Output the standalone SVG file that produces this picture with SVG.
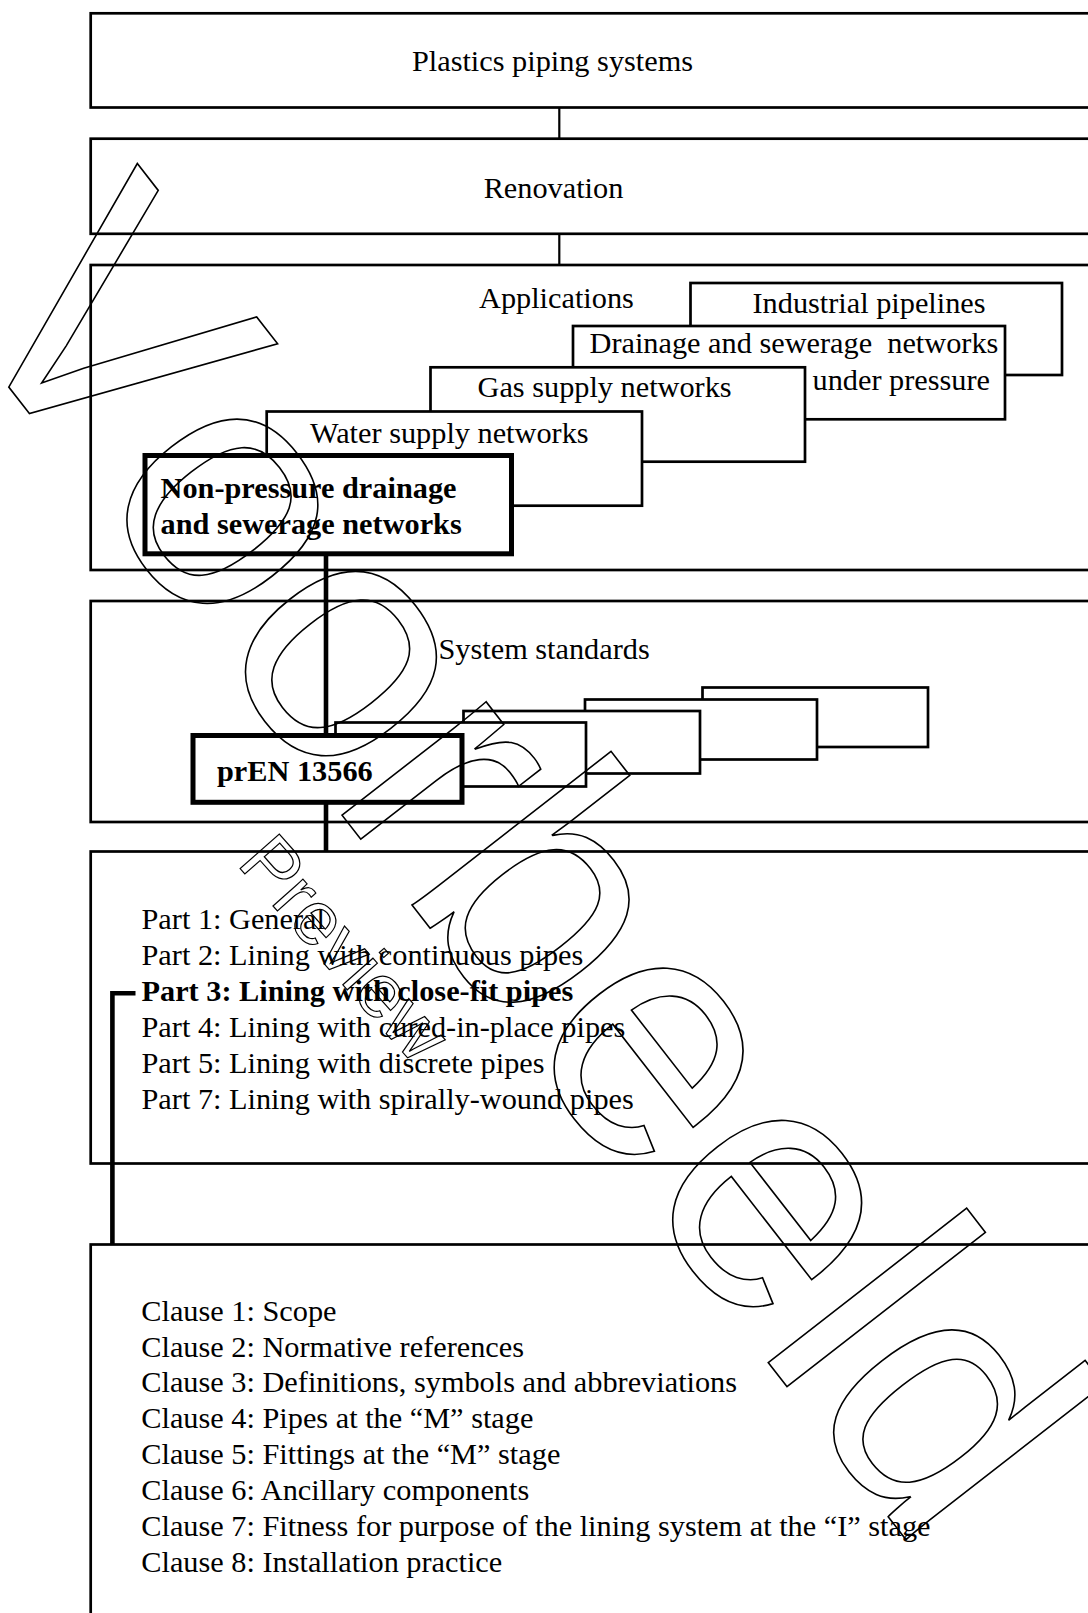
<svg xmlns="http://www.w3.org/2000/svg" width="1088" height="1613" viewBox="0 0 1088 1613">
<style>
.box{fill:#fff;stroke:#000;stroke-width:2.7}
.thick{fill:#fff;stroke:#000;stroke-width:5}
.t{font-family:"Liberation Serif","Times New Roman",serif;font-size:30.3px;fill:#000}
.b{font-weight:bold}
.c{text-anchor:middle}
.ln{fill:none;stroke:#000;stroke-width:2.2}
.tk{fill:none;stroke:#000;stroke-width:4.6}
.wm{font-family:"Liberation Sans",Arial,sans-serif;fill:none;stroke:#000;font-kerning:none}
</style>
<rect width="1088" height="1613" fill="#fff"/>

<g id="connectors">
<line class="ln" x1="559.3" y1="107.5" x2="559.3" y2="138.7"/>
<line class="ln" x1="559.3" y1="233.8" x2="559.3" y2="265"/>
</g>

<g id="n-plastics">
<rect class="box" x="90.7" y="13.3" width="1020" height="94.2"/>
<text class="t c" x="552.5" y="70.5">Plastics piping systems</text>
</g>
<g id="n-renovation">
<rect class="box" x="90.7" y="138.7" width="1020" height="95.1"/>
<text class="t c" x="553.5" y="197.5">Renovation</text>
</g>

<g id="n-applications">
<rect class="box" x="90.7" y="265" width="1020" height="305"/>
<text class="t" x="479" y="308">Applications</text>
</g>
<g id="n-industrial">
<rect class="box" x="690.5" y="283" width="371.5" height="92"/>
<text class="t" x="752.5" y="313">Industrial pipelines</text>
</g>
<g id="n-drainage-pressure">
<rect class="box" x="573" y="326" width="432" height="93.3"/>
<text class="t" x="589.5" y="353" xml:space="preserve">Drainage and sewerage  networks</text>
<text class="t" x="812.5" y="390">under pressure</text>
</g>
<g id="n-gas">
<rect class="box" x="430.5" y="367.3" width="374.5" height="94.4"/>
<text class="t" x="477.5" y="397">Gas supply networks</text>
</g>
<g id="n-water">
<rect class="box" x="266.7" y="411.5" width="375.3" height="94.2"/>
<text class="t" x="310" y="442.5">Water supply networks</text>
</g>

<g id="n-system-standards">
<rect class="box" x="90.7" y="601" width="1020" height="221"/>
<text class="t" x="438.5" y="658.5">System standards</text>
</g>
<g id="n-std-d"><rect class="box" x="702.5" y="687.5" width="225.5" height="59.5"/></g>
<g id="n-std-c"><rect class="box" x="585" y="699.5" width="232" height="60"/></g>
<g id="n-std-b"><rect class="box" x="463.5" y="711" width="236.5" height="62.5"/></g>
<g id="n-std-a"><rect class="box" x="335.5" y="722.5" width="250.5" height="64"/></g>

<g id="n-parts">
<rect class="box" x="90.7" y="851.5" width="1020" height="312"/>
<text class="t" x="141.5" y="929">Part 1: General</text>
<text class="t" x="141.5" y="964.9">Part 2: Lining with continuous pipes</text>
<text class="t b" x="141.5" y="1000.8">Part 3: Lining with close-fit pipes</text>
<text class="t" x="141.5" y="1036.7">Part 4: Lining with cured-in-place pipes</text>
<text class="t" x="141.5" y="1072.6">Part 5: Lining with discrete pipes</text>
<text class="t" x="141.5" y="1108.5">Part 7: Lining with spirally-wound pipes</text>
</g>

<g id="n-clauses">
<rect class="box" x="90.7" y="1244.5" width="1020" height="420"/>
<text class="t" x="141.3" y="1320.7">Clause 1: Scope</text>
<text class="t" x="141.3" y="1356.6">Clause 2: Normative references</text>
<text class="t" x="141.3" y="1392.4">Clause 3: Definitions, symbols and abbreviations</text>
<text class="t" x="141.3" y="1428.3">Clause 4: Pipes at the “M” stage</text>
<text class="t" x="141.3" y="1464.1">Clause 5: Fittings at the “M” stage</text>
<text class="t" x="141.3" y="1500">Clause 6: Ancillary components</text>
<text class="t" x="141.3" y="1535.9">Clause 7: Fitness for purpose of the lining system at the “I” stage</text>
<text class="t" x="141.3" y="1571.7">Clause 8: Installation practice</text>
</g>

<g id="connectors-thick">
<line class="tk" x1="326" y1="553.8" x2="326" y2="735.5"/>
<line class="tk" x1="326" y1="802.3" x2="326" y2="851.5"/>
<path class="tk" d="M135.5,993.3 H112.4 V1244.5"/>
</g>

<g id="n-nonpressure">
<rect class="thick" x="145" y="455.5" width="366.5" height="98.3"/>
<text class="t b" x="160.5" y="498">Non-pressure drainage</text>
<text class="t b" x="160.5" y="533.5">and sewerage networks</text>
</g>
<g id="n-pren">
<rect class="thick" x="193" y="735.5" width="269" height="66.8"/>
<text class="t b" x="217" y="781.3">prEN 13566</text>
</g>

<g id="watermark">
<text class="wm" font-size="347" stroke-width="1.6" transform="translate(-52,309) rotate(52.1)">Voorbeeld</text>
<text class="wm" font-size="76" stroke-width="1.2" transform="translate(236,864) rotate(48.5)">Preview</text>
</g>
</svg>
